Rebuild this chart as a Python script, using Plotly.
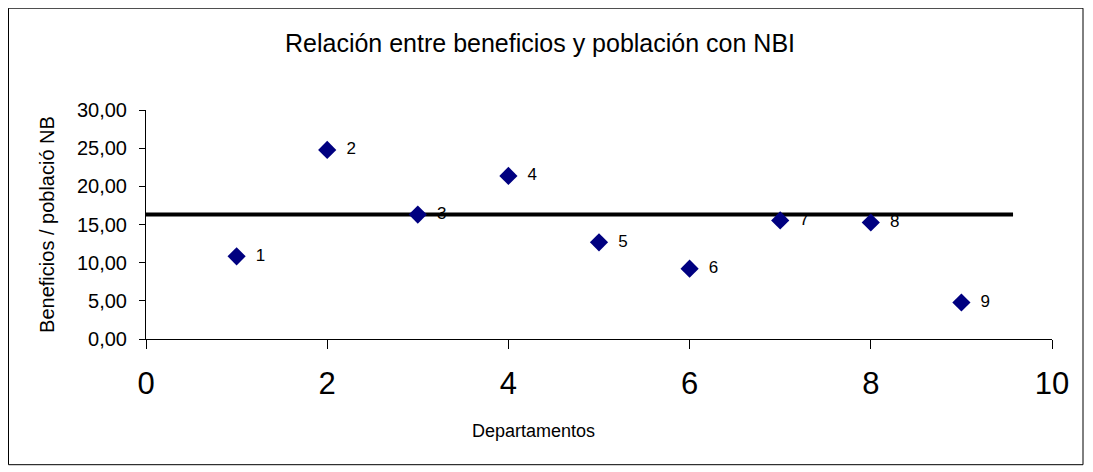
import plotly.graph_objects as go

departamentos = [1, 2, 3, 4, 5, 6, 7, 8, 9]
beneficios_nbi = [10.83, 24.77, 16.30, 21.36, 12.67, 9.21, 15.53, 15.26, 4.78]
etiquetas = ["1", "2", "3", "4", "5", "6", "7", "8", "9"]

promedio_x = [0, 9.57]
promedio_y = [16.3, 16.3]

FONT = "Liberation Sans, Arial, sans-serif"

# the page body keeps its 8px margin, so the figure is 8px smaller each way
W, H = 1085, 464

fig = go.Figure()
fig.add_trace(
    go.Scatter(
        x=promedio_x,
        y=promedio_y,
        mode="lines",
        line=dict(color="black", width=4),
        hoverinfo="skip",
    )
)
fig.add_trace(
    go.Scatter(
        x=departamentos,
        y=beneficios_nbi,
        mode="markers+text",
        text=["  " + t for t in etiquetas],
        textposition="middle right",
        textfont=dict(size=17, color="black", family=FONT),
        marker=dict(symbol="diamond", size=14, color="#000080"),
    )
)

fig.update_layout(
    width=W,
    height=H,
    showlegend=False,
    paper_bgcolor="white",
    plot_bgcolor="white",
    margin=dict(l=138, r=41, t=102, b=133),
    font=dict(family=FONT, color="black"),
    separators=",.",
    title=dict(
        text="Relación entre beneficios y población con NBI",
        x=532 / W,
        xanchor="center",
        y=1 - 35 / H,
        yanchor="middle",
        font=dict(size=25, family=FONT, color="black"),
    ),
    annotations=[
        dict(
            text="Departamentos",
            xref="paper",
            yref="paper",
            x=(533 - 146) / 906,
            y=(339.3 - 431) / 229,
            xanchor="center",
            yanchor="middle",
            showarrow=False,
            font=dict(size=18, family=FONT, color="black"),
        )
    ],
    shapes=[
        dict(
            type="rect",
            xref="paper",
            yref="paper",
            x0=(8.5 - 146) / 906,
            x1=(1083 - 146) / 906,
            y0=(339.3 - 465) / 229,
            y1=(339.3 - 8.5) / 229,
            line=dict(color="black", width=1),
            layer="below",
        )
    ],
)
fig.update_xaxes(
    range=[0, 10],
    tickvals=[0, 2, 4, 6, 8, 10],
    showgrid=False,
    zeroline=False,
    showline=True,
    linecolor="black",
    linewidth=1,
    ticks="outside",
    ticklen=9,
    tickcolor="black",
    ticklabelstandoff=8,
    tickfont=dict(size=31, family=FONT, color="black"),
)
fig.update_yaxes(
    range=[0, 30],
    tickvals=[0, 5, 10, 15, 20, 25, 30],
    tickformat=".2f",
    showgrid=False,
    zeroline=False,
    showline=True,
    linecolor="black",
    linewidth=1,
    ticks="outside",
    ticklen=6,
    tickcolor="black",
    ticklabelstandoff=8,
    tickfont=dict(size=20, family=FONT, color="black"),
    title=dict(text="Beneficios / població NB", font=dict(size=20, family=FONT, color="black"), standoff=16),
)

fig.write_html("out.html")
